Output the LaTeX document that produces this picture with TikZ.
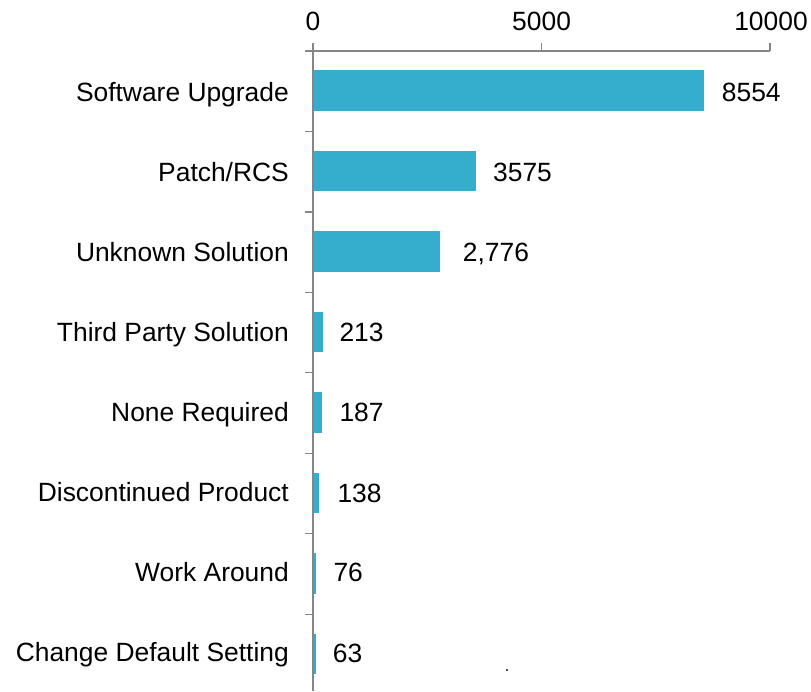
\documentclass[tikz,border=0pt]{standalone}
\usepackage{fontspec}
\setmainfont{Liberation Sans}
\definecolor{barblue}{RGB}{53,174,205}
\definecolor{axisgray}{RGB}{134,134,134}
\tikzset{
  catlabel/.style={anchor=base east,inner sep=0pt,font=\fontsize{26.4}{30}\selectfont},
  vallabel/.style={anchor=base west,inner sep=0pt,font=\fontsize{26.4}{30}\selectfont},
  ticklabel/.style={anchor=base,inner sep=0pt,font=\fontsize{26.4}{30}\selectfont}
}
\begin{document}
\begin{tikzpicture}[x=1pt,y=-1pt]
\useasboundingbox (0,0) rectangle (811,691);

% bars (10000 = 457.2)
\foreach \i/\v in {0/8554,1/3575,2/2776,3/213,4/187,5/138,6/76,7/63}
  \fill[barblue] (312.5,{70.4+80.45*\i}) rectangle ({313+\v*0.04572},{110.8+80.45*\i});

% axes and ticks
\draw[axisgray,line width=1.2pt] (305,51) -- (770,51);
\draw[axisgray,line width=1.2pt] (313,43) -- (313,691);
\foreach \x in {541.6,770} \draw[axisgray,line width=1.2pt] (\x,43) -- (\x,51);
\foreach \i in {1,...,7} \draw[axisgray,line width=1.2pt] (305,{51+80.45*\i}) -- (313,{51+80.45*\i});

% scale labels
\node[ticklabel] (t0) at (313,30) {0};
\node[ticklabel] (t5) at (541.6,30) {5000};
\node[ticklabel] (t10) at (771,30) {10000};

% categories
\node[catlabel] (c1) at (289,101.7) {Software Upgrade};
\node[catlabel] (c2) at (289,181.7) {Patch/RCS};
\node[catlabel] (c3) at (289,261.7) {Unknown Solution};
\node[catlabel] (c4) at (289,341.7) {Third Party Solution};
\node[catlabel] (c5) at (289,421.7) {None Required};
\node[catlabel] (c6) at (289,501.7) {Discontinued Product};
\node[catlabel] (c7) at (289,581.7) {Work Around};
\node[catlabel] (c8) at (289,661.7) {Change Default Setting};

% values
\node[vallabel] (v1) at (721.7,101.2) {8554};
\node[vallabel] (v2) at (493,181.7) {3575};
\node[vallabel] (v3) at (462.7,261.7) {2,776};
\node[vallabel] (v4) at (339.3,341.7) {213};
\node[vallabel] (v5) at (339.3,421.7) {187};
\node[vallabel] (v6) at (337.3,502.2) {138};
\node[vallabel] (v7) at (333.3,581.7) {76};
\node[vallabel] (v8) at (332.7,662.5) {63};

% stray mark
\fill[black!70] (506,669) rectangle (508,671);
\end{tikzpicture}
\end{document}
